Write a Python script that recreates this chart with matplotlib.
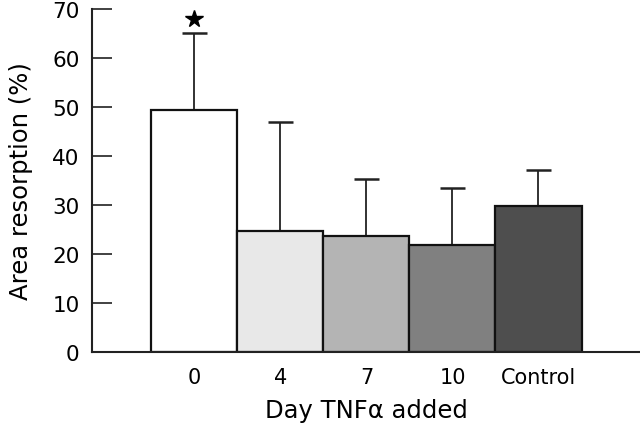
import matplotlib
matplotlib.use("Agg")
import matplotlib.pyplot as plt

categories = ["0", "4", "7", "10", "Control"]
values = [49.4, 24.6, 23.6, 21.9, 29.7]
errors_upper = [15.7, 22.4, 11.7, 11.6, 7.4]
colors = ["#ffffff", "#e8e8e8", "#b4b4b4", "#808080", "#4e4e4e"]
star_value = 68.0

plt.rcParams['font.family'] = ['DejaVu Sans']

fig = plt.figure(figsize=(6.4, 4.31), dpi=100)
W, H = 640, 431
ax = fig.add_axes([92 / W, 1 - 353 / H, (640 - 92) / W, (353 - 10) / H])

x = list(range(len(categories)))
ax.bar(x, values, width=1.0, color=colors, edgecolor="#111111", linewidth=1.6, zorder=2)
ax.errorbar(x, values, yerr=[[0] * len(values), errors_upper], fmt="none",
            ecolor="#222222", elinewidth=1.3, capsize=9, capthick=1.8, zorder=1)
ax.plot([0], [star_value], marker="*", color="black", markersize=13, linestyle="none")

ax.set_xlim(-1.19, 5.18)
ax.set_ylim(0, 70)
ax.set_yticks(range(0, 71, 10))
ax.set_xticks(x)
ax.set_xticklabels(categories, fontsize=15)
ax.tick_params(axis="x", length=0, pad=11)
ax.tick_params(axis="y", direction="in", length=14.5, width=1.3, labelsize=15.5, pad=9, color="#333333")
for s in ["top", "right"]:
    ax.spines[s].set_visible(False)
ax.spines["left"].set_linewidth(1.5)
ax.spines["bottom"].set_linewidth(1.5)
ax.spines["left"].set_color("#222222")
ax.spines["bottom"].set_color("#222222")

ax.set_ylabel("Area resorption (%)", fontsize=17.5, labelpad=14)
ax.set_xlabel("Day TNFα added", fontsize=17.5, labelpad=8)

fig.savefig("out.png", dpi=100)
